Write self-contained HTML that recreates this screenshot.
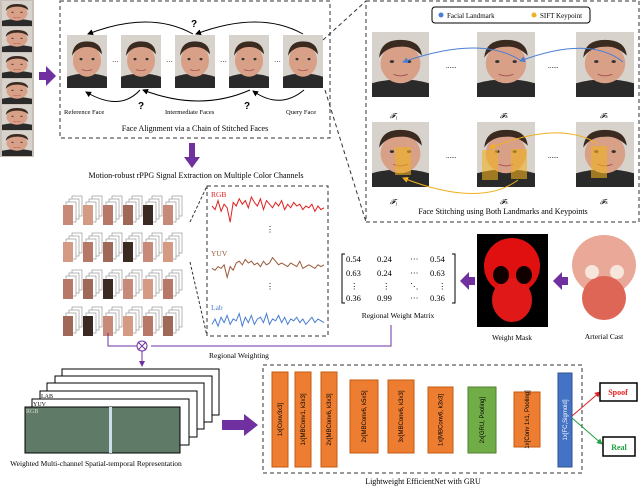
<!DOCTYPE html>
<html><head><meta charset="utf-8"><style>
body{margin:0;background:#fff;width:640px;height:487px;overflow:hidden}
svg{display:block;font-family:"Liberation Serif",serif}
</style></head><body>
<svg id="s" width="640" height="487" viewBox="0 0 640 487">
<defs>
<marker id="ah" markerWidth="6" markerHeight="6" refX="5" refY="3" orient="auto"><path d="M0,0L6,3L0,6z" fill="#000"/></marker>
<marker id="ap" markerWidth="6" markerHeight="6" refX="5" refY="3" orient="auto"><path d="M0,0L6,3L0,6z" fill="#7030a0"/></marker>
<marker id="ab" markerWidth="6" markerHeight="6" refX="5" refY="3" orient="auto"><path d="M0,0L6,3L0,6z" fill="#4a7fd4"/></marker>
<marker id="ay" markerWidth="6" markerHeight="6" refX="5" refY="3" orient="auto"><path d="M0,0L6,3L0,6z" fill="#f0b020"/></marker>
<marker id="ar" markerWidth="6" markerHeight="6" refX="5" refY="3" orient="auto"><path d="M0,0L6,3L0,6z" fill="#e02020"/></marker>
<marker id="ag" markerWidth="6" markerHeight="6" refX="5" refY="3" orient="auto"><path d="M0,0L6,3L0,6z" fill="#20a040"/></marker>
<symbol id="face" viewBox="0 0 40 66" preserveAspectRatio="none"><rect width="40" height="66" fill="#d8d2cc"/><path d="M0,66 L0,52 Q20,44 40,52 L40,66z" fill="#2a2a2a"/><ellipse cx="20" cy="32" rx="14" ry="20" fill="#d9a088"/><path d="M5,26 Q6,8 20,8 Q34,8 35,24 Q28,14 20,15 Q10,15 5,26z" fill="#3a2a20"/><circle cx="14" cy="30" r="1.5" fill="#333"/><circle cx="26" cy="30" r="1.5" fill="#333"/><path d="M15,43 Q20,46 25,43" stroke="#a55" fill="none"/></symbol>
</defs>

<g>
<rect x="0" y="0" width="34" height="157" fill="#c8c0b8"/>
<use href="#face" x="2" y="1" width="30" height="25"/><use href="#face" x="2" y="27" width="30" height="25"/><use href="#face" x="2" y="53" width="30" height="25"/><use href="#face" x="2" y="79" width="30" height="25"/><use href="#face" x="2" y="105" width="30" height="25"/><use href="#face" x="2" y="131" width="30" height="25"/>
</g>
<path d="M39,72 h7 v-6 l10,10 l-10,10 v-6 h-7z" fill="#7030a0"/>

<g>
<rect x="60" y="1" width="270" height="137" fill="none" stroke="#333" stroke-dasharray="4,3"/>
<use href="#face" x="67" y="35" width="40" height="53"/><use href="#face" x="121" y="35" width="40" height="53"/><use href="#face" x="175" y="35" width="40" height="53"/><use href="#face" x="229" y="35" width="40" height="53"/><use href="#face" x="283" y="35" width="40" height="53"/>
<text x="112" y="64" font-size="7">···</text><text x="166" y="64" font-size="7">···</text><text x="220" y="64" font-size="7">···</text><text x="274" y="64" font-size="7">···</text>
<path d="M193,34 Q150,10 88,34" stroke="#000" fill="none" marker-end="url(#ah)"/>
<path d="M303,34 Q260,10 196,34" stroke="#000" fill="none" marker-end="url(#ah)"/>
<path d="M140,90 Q120,112 86,92" stroke="#000" fill="none" marker-end="url(#ah)"/>
<path d="M250,90 Q200,112 143,90" stroke="#000" fill="none" marker-end="url(#ah)"/>
<path d="M304,90 Q280,110 253,91" stroke="#000" fill="none" marker-end="url(#ah)"/>
<text x="191" y="27" font-size="10" font-weight="bold" font-family="Liberation Sans">?</text>
<text x="138" y="109" font-size="10" font-weight="bold" font-family="Liberation Sans">?</text>
<text x="244" y="109" font-size="10" font-weight="bold" font-family="Liberation Sans">?</text>
<text x="64" y="114" font-size="6.5">Reference Face</text><text x="165" y="114" font-size="6.5">Intermediate Faces</text><text x="286" y="114" font-size="6.5">Query Face</text>
<text x="195" y="131" font-size="8" text-anchor="middle">Face Alignment via a Chain of Stitched Faces</text>
</g>
<path d="M323,40 L366,1 M325,90 L366,222" stroke="#333" stroke-dasharray="4,3" fill="none"/>

<g>
<rect x="366" y="1" width="273" height="221" fill="none" stroke="#333" stroke-dasharray="4,3"/>
<rect x="432" y="7" width="158" height="16" rx="3" fill="#fff" stroke="#000"/>
<circle cx="441" cy="15" r="2.5" fill="#4a7fd4"/><text x="447" y="18" font-size="7">Facial Landmark</text>
<circle cx="534" cy="15" r="2.5" fill="#f0b020"/><text x="540" y="18" font-size="7">SIFT Keypoint</text>
<use href="#face" x="372" y="32" width="57" height="65"/><use href="#face" x="477" y="32" width="58" height="65"/><use href="#face" x="576" y="32" width="58" height="65"/>
<use href="#face" x="372" y="122" width="57" height="65"/><use href="#face" x="477" y="122" width="58" height="65"/><use href="#face" x="576" y="122" width="58" height="65"/>
<text x="446" y="68" font-size="7">......</text><text x="548" y="68" font-size="7">......</text><text x="446" y="158" font-size="7">......</text><text x="548" y="158" font-size="7">......</text>
<path d="M520,60 Q480,35 403,62" stroke="#4a7fd4" fill="none" marker-end="url(#ab)"/>
<path d="M623,62 Q590,35 520,61" stroke="#4a7fd4" fill="none" marker-end="url(#ab)"/>
<rect x="395" y="147" width="16" height="28" fill="#f0b020" opacity="0.6"/>
<rect x="482" y="150" width="16" height="30" fill="#f0b020" opacity="0.6"/><rect x="511" y="149" width="16" height="30" fill="#f0b020" opacity="0.6"/>
<rect x="591" y="146" width="16" height="32" fill="#f0b020" opacity="0.6"/>
<path d="M598,144 Q560,120 490,148" stroke="#f0b020" fill="none" marker-end="url(#ay)"/>
<path d="M518,180 Q480,208 403,178" stroke="#f0b020" fill="none" marker-end="url(#ay)"/>
<text x="390" y="118" font-size="7" font-style="italic">𝓕₁</text><text x="500" y="118" font-size="7" font-style="italic">𝓕ₖ</text><text x="600" y="118" font-size="7" font-style="italic">𝓕ₖ</text>
<text x="390" y="204" font-size="7" font-style="italic">𝓕₁</text><text x="500" y="204" font-size="7" font-style="italic">𝓕ₖ</text><text x="600" y="204" font-size="7" font-style="italic">𝓕ₖ</text>
<text x="503" y="214" font-size="8" text-anchor="middle">Face Stitching using Both Landmarks and Keypoints</text>
</g>

<path d="M189,143 h6 v14 h5 l-8,11 l-8,-11 h5z" fill="#7030a0"/>
<text x="196" y="178" font-size="8" text-anchor="middle">Motion-robust rPPG Signal Extraction on Multiple Color Channels</text>

<g id="patches"></g>

<g>
<rect x="207" y="186" width="121" height="150" fill="none" stroke="#333" stroke-dasharray="4,3"/>
<path d="M190,222 L207,186 M190,262 L207,336" stroke="#333" stroke-dasharray="3,2"/>
<text x="211" y="197" font-size="7.5" fill="#e02020">RGB</text>
<text x="211" y="256" font-size="7.5" fill="#9a5a3a">YUV</text>
<text x="211" y="310" font-size="7.5" fill="#4a7fd4">Lab</text>
<text x="266" y="232" font-size="8">⋮</text><text x="266" y="289" font-size="8">⋮</text>
<g id="sig"></g>
</g>

<g font-size="8.5">
<path d="M345,254 h-3 v49 h3 M452,254 h3 v49 h-3" stroke="#000" fill="none"/>
<text x="346" y="262">0.54</text><text x="377" y="262">0.24</text><text x="410" y="262">···</text><text x="430" y="262">0.54</text>
<text x="346" y="276">0.63</text><text x="377" y="276">0.24</text><text x="410" y="276">···</text><text x="430" y="276">0.63</text>
<text x="350" y="289">⋮</text><text x="382" y="289">⋮</text><text x="410" y="289">⋱</text><text x="438" y="289">⋮</text>
<text x="346" y="301">0.36</text><text x="377" y="301">0.99</text><text x="410" y="301">···</text><text x="430" y="301">0.36</text>
<text x="398" y="318" font-size="7.5" text-anchor="middle">Regional Weight Matrix</text>
</g>
<g>
<rect x="477" y="234" width="71" height="93" fill="#000"/>
<ellipse cx="512" cy="266" rx="28" ry="28" fill="#e01010"/><ellipse cx="512" cy="300" rx="20" ry="22" fill="#e01818"/>
<ellipse cx="501" cy="275" rx="8" ry="9" fill="#100"/><ellipse cx="524" cy="275" rx="8" ry="9" fill="#100"/>
<text x="512" y="340" font-size="7.5" text-anchor="middle">Weight Mask</text>
</g>
<g>
<ellipse cx="604" cy="265" rx="32" ry="30" fill="#eaa898"/><ellipse cx="604" cy="298" rx="22" ry="22" fill="#dd6656"/>
<circle cx="592" cy="272" r="7" fill="#f6e6dc"/><circle cx="617" cy="272" r="7" fill="#f6e6dc"/>
<text x="604" y="339" font-size="7.5" text-anchor="middle">Arterial Cast</text>
</g>
<path d="M568,277 h-6 v-5 l-9,9 l9,9 v-5 h6z M475,277 h-6 v-5 l-9,9 l9,9 v-5 h6z" fill="#7030a0"/>

<g>
<circle cx="142" cy="346" r="5" fill="#fff" stroke="#7030a0"/><path d="M138,342 l8,8 M146,342 l-8,8" stroke="#7030a0"/>
<path d="M108,333 v13 h29 M391,325 V346 H151" stroke="#7030a0" fill="none"/>
<path d="M142,351 v15" stroke="#7030a0" marker-end="url(#ap)"/>
<text x="239" y="358" font-size="7.5" text-anchor="middle">Regional Weighting</text>
</g>

<g>
<rect x="62" y="369" width="157" height="46" fill="#fff" stroke="#000"/>
<rect x="55" y="376" width="157" height="46" fill="#fff" stroke="#000"/>
<rect x="47" y="383" width="157" height="46" fill="#fff" stroke="#000"/>
<rect x="40" y="391" width="157" height="46" fill="#fff" stroke="#000"/>
<rect x="32" y="399" width="157" height="46" fill="#fff" stroke="#000"/>
<rect x="25" y="407" width="155" height="46" fill="#5f7a66" stroke="#000"/>
<rect x="109" y="407" width="3" height="46" fill="#cde"/>
<text x="41" y="398" font-size="6">LAB</text><text x="33" y="406" font-size="6">YUV</text><text x="26" y="413" font-size="6" fill="#ddd">RGB</text>
<text x="96" y="466" font-size="7.5" text-anchor="middle">Weighted Multi-channel Spatial-temporal Representation</text>
</g>
<path d="M222,420 h22 v-6 l14,11 l-14,11 v-6 h-22z" fill="#7030a0"/>

<g font-family="Liberation Sans" font-size="6">
<rect x="263" y="365" width="319" height="108" fill="none" stroke="#333" stroke-dasharray="4,3"/>
<g id="blocks"></g>
<text x="423" y="484" font-size="8" text-anchor="middle" font-family="Liberation Serif">Lightweight EfficientNet with GRU</text>
</g>
<path d="M572,416 L600,392" stroke="#e02020" marker-end="url(#ar)"/>
<path d="M572,418 L602,444" stroke="#20a040" marker-end="url(#ag)"/>
<rect x="600" y="383" width="37" height="18" fill="#fff" stroke="#000" stroke-width="1.5"/>
<text x="618" y="395" font-size="8" fill="#e02020" text-anchor="middle" font-weight="bold">Spoof</text>
<rect x="603" y="437" width="32" height="19" fill="#fff" stroke="#000" stroke-width="1.5"/>
<text x="619" y="450" font-size="8" fill="#20a040" text-anchor="middle" font-weight="bold">Real</text>
</svg>
<script>
const rgbSig=[5,3,8,2,6,4,-4,7,5,9,6,8,4,10,7,5,9,3,8,6,4,7,5,8,3,6,4,7,5,6,3,5,4,6,2,5,3,4];
const yuvSig=[2,1,3,2,4,-3,3,1,5,6,4,7,5,6,4,5,3,6,4,5,8,6,4,5,4,3,5,4,3,6,2,3,4,3,2,4,3,4];
const labSig=[2,5,1,6,3,7,2,5,4,8,1,6,3,7,2,5,6,3,8,2,5,4,7,3,6,2,5,4,6,3,5,2,4,6,3,5,4,3];
const blockLabels=["1x[Conv3x3]","1x[MBConv1, k3x3]","2x[MBConv6, k3x3]","2x[MBConv6, k5x5]","3x[MBConv6, k3x3]","1x[MBConv6, k3x3]","2x[GRU, Pooling]","1x[Conv 1x1, Pooling]","1x[FC,Sigmoid]"];
const NS="http://www.w3.org/2000/svg";
function sig(arr,y0,col){const p=document.createElementNS(NS,"polyline");
 const pts=arr.map((v,i)=>(212+i*(112/(arr.length-1)))+","+(y0-v*1.8)).join(" ");
 p.setAttribute("points",pts);p.setAttribute("fill","none");p.setAttribute("stroke",col);
 
 
 document.getElementById("sig").appendChild(p);}
sig(rgbSig,215,"#e02020");sig(yuvSig,272,"#9a5a3a");sig(labSig,328,"#4a7fd4");
const bx=[272,295,321,350,388,428,468,514,558];const bw=[16,16,16,28,26,25,28,26,14];
const by=[372,372,372,380,380,387,387,392,373];const bh=[95,95,95,73,73,66,66,55,94];
const g=document.getElementById("blocks");
blockLabels.forEach((t,i)=>{
 const r=document.createElementNS(NS,"rect");
 r.setAttribute("x",bx[i]);r.setAttribute("y",by[i]);r.setAttribute("width",bw[i]);r.setAttribute("height",bh[i]);
 r.setAttribute("fill",i==6?"#70ad47":i==8?"#4472c4":"#ed7d31");r.setAttribute("stroke",i==6?"#507e32":i==8?"#2f528f":"#c55a11");
 
 
 g.appendChild(r);
 const cx=bx[i]+bw[i]/2+2, cy=by[i]+bh[i]/2;
 const tx=document.createElementNS(NS,"text");
 tx.setAttribute("x",cx);tx.setAttribute("y",cy);tx.setAttribute("text-anchor","middle");
 tx.setAttribute("transform","rotate(-90 "+cx+" "+cy+")");tx.setAttribute("fill",i==8?"#fff":"#000");tx.textContent=t;
 
 
 g.appendChild(tx);});
const pg=document.getElementById("patches");
const skin=["#c88a78","#d49a84","#b87868","#a06858","#3a2a22"];
for(let r=0;r<4;r++)for(let c=0;c<6;c++){
 for(let k=3;k>=0;k--){const q=document.createElementNS(NS,"rect");
 q.setAttribute("x",63+c*20+k*3);q.setAttribute("y",205+r*37-k*3);q.setAttribute("width",10);q.setAttribute("height",20);
 q.setAttribute("fill",k==0?skin[(r+c)%5]:"#fff");q.setAttribute("stroke",k==0?"none":"#888");q.setAttribute("stroke-width","0.6");
 
 
 pg.appendChild(q);}}
</script>
</body></html>
